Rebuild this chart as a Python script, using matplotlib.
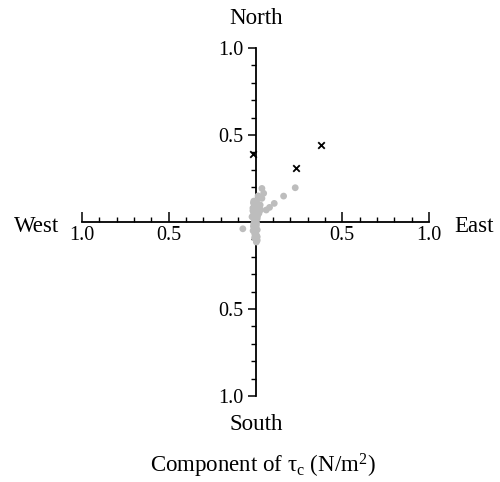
import matplotlib
matplotlib.use("Agg")
import matplotlib.pyplot as plt
from matplotlib.ticker import FixedLocator, MultipleLocator

plt.rcParams['font.family'] = ['Liberation Serif', 'DejaVu Serif']
plt.rcParams['mathtext.fontset'] = 'stix'

# Gray points (east component, north component), N/m^2
dots_x = [0.229, 0.162, 0.108, 0.081, 0.062, 0.047, 0.037, 0.037, 0.027, 0.030, -0.073,
          -0.010, 0.000, -0.015, 0.005, -0.010, 0.000, -0.020, 0.010, -0.005, 0.000,
          -0.010, 0.005, -0.005, 0.010, 0.000, 0.005, -0.005, 0.010, 0.005, 0.015, 0.020,
          -0.012, 0.008, -0.015, 0.012, -0.008, 0.006, -0.012, 0.004, 0.000, -0.004,
          0.010, -0.014, 0.002, 0.008]
dots_y = [0.197, 0.149, 0.107, 0.084, 0.069, 0.165, 0.193, 0.136, 0.098, 0.070, -0.039,
          0.120, 0.100, 0.080, 0.060, 0.050, 0.040, 0.030, 0.020, 0.010, 0.000,
          -0.010, -0.020, -0.030, -0.045, -0.060, -0.075, -0.090, -0.105, -0.115, 0.150, 0.050,
          0.110, 0.090, 0.065, 0.035, 0.015, -0.005, -0.025, -0.040, -0.055, -0.070,
          -0.085, -0.050, -0.100, 0.125]
# Crosses
cross_x = [-0.013, 0.235, 0.38]
cross_y = [0.39, 0.31, 0.44]

tick_vals = [-1.0, -0.5, 0.5, 1.0]
tick_labels = ["1.0", "0.5", "0.5", "1.0"]

fig = plt.figure(figsize=(5.0, 4.82), dpi=100)
ax = fig.add_axes([0.164, 0.1784, 0.694, 0.722])
ax.set_xlim(-1, 1)
ax.set_ylim(-1, 1)

ax.scatter(dots_x, dots_y, s=24, color='#bdbdbd', edgecolors='none', zorder=3)
ax.scatter(cross_x, cross_y, s=22, marker='x', color='black', linewidths=1.3, zorder=4)

for s in ['top', 'right']:
    ax.spines[s].set_visible(False)
ax.spines['left'].set_position(('data', 0))
ax.spines['bottom'].set_position(('data', 0))
ax.spines['left'].set_linewidth(1.3)
ax.spines['bottom'].set_linewidth(1.3)

ax.xaxis.set_major_locator(FixedLocator(tick_vals))
ax.yaxis.set_major_locator(FixedLocator(tick_vals))
ax.set_xticklabels(tick_labels)
ax.set_yticklabels(tick_labels)
ax.xaxis.set_minor_locator(MultipleLocator(0.1))
ax.yaxis.set_minor_locator(MultipleLocator(0.1))

ax.tick_params(axis='x', which='major', direction='in', length=7, width=1.1, labelsize=14.5, pad=3)
ax.tick_params(axis='x', which='minor', direction='in', length=3.5, width=1.0)
ax.tick_params(axis='y', which='major', direction='out', length=6, width=1.1, labelsize=14.5, pad=3)
ax.tick_params(axis='y', which='minor', direction='out', length=3.5, width=1.0)

lab = 16.5
fig.text(37 / 500, 1 - 227 / 482, "West", ha='center', va='center', fontsize=lab)
fig.text(474 / 500, 1 - 227 / 482, "East", ha='center', va='center', fontsize=lab)
fig.text(256 / 500, 1 - 19 / 482, "North", ha='center', va='center', fontsize=lab)
fig.text(256 / 500, 1 - 424 / 482, "South", ha='center', va='center', fontsize=lab)
fig.text(263 / 500, 1 - 466 / 482, r"Component of $\mathregular{\tau_c}$ (N/m$\mathregular{^2}$)",
         ha='center', va='center', fontsize=lab)

fig.savefig("out.png", dpi=100)
